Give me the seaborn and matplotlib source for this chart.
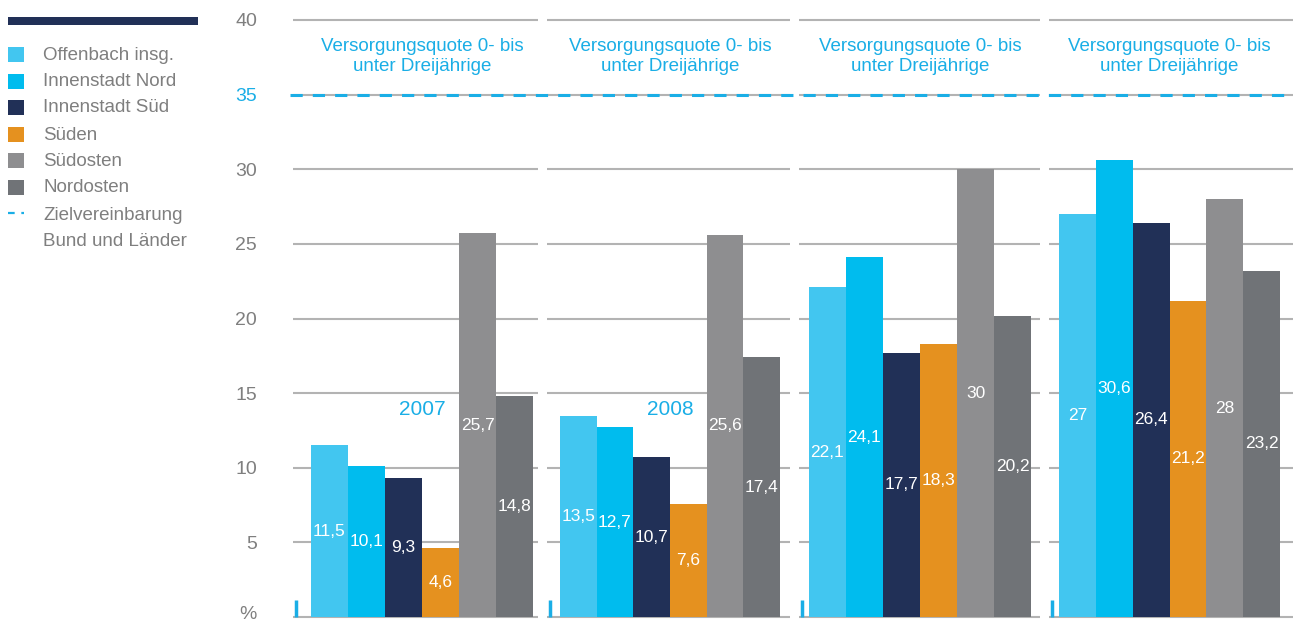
import pandas as pd
import seaborn as sns
import matplotlib.pyplot as plt
from matplotlib.patches import Rectangle
from matplotlib.lines import Line2D
from matplotlib import transforms

# Data
years = ['2007', '2008', '2009', '2010']
shown_years = ['2007', '2008']   # later year labels are hidden behind the bars
regions = ['Offenbach insg.', 'Innenstadt Nord', 'Innenstadt Süd', 'Süden', 'Südosten', 'Nordosten']
offenbach = [11.5, 13.5, 22.1, 27]
innenstadt_nord = [10.1, 12.7, 24.1, 30.6]
innenstadt_sued = [9.3, 10.7, 17.7, 26.4]
sueden = [4.6, 7.6, 18.3, 21.2]
suedosten = [25.7, 25.6, 30, 28]
nordosten = [14.8, 17.4, 20.2, 23.2]
target = 35
target_label = ['Zielvereinbarung', 'Bund und Länder']
panel_title = 'Versorgungsquote 0- bis\nunter Dreijährige'
yticks = [0, 5, 10, 15, 20, 25, 30, 35, 40]
ytick_labels = ['%', '5', '10', '15', '20', '25', '30', '35', '40']

colors = ['#42c6f0', '#00bcee', '#213057', '#e5911f', '#8e8e90', '#707377']
blue = '#1aaee6'
grey_txt = '#7f7f7f'
grid_col = '#b3b3b3'

series = [offenbach, innenstadt_nord, innenstadt_sued, sueden, suedosten, nordosten]
rows = []
for reg, vals in zip(regions, series):
    for yr, v in zip(years, vals):
        rows.append({'year': yr, 'region': reg, 'value': v})
df = pd.DataFrame(rows)

sns.set_style('white')
plt.rcParams['font.family'] = ['Liberation Sans', 'DejaVu Sans']

W, H = 1293, 624
fig = plt.figure(figsize=(W / 100, H / 100), dpi=100)

# panel extents in pixels and padding around the bar group
panels = [(293, 538), (547, 790), (799, 1040), (1049, 1293)]
pads = [(18, 5), (13, 10), (10, 9), (10, 13)]
px_per_unit = 222 / 0.8
y_lo, y_hi = -0.2, 40.3
px_per_val = (617 - 20) / 40
bot_px = 617 + 0.2 * px_per_val
top_px = 617 - 40.3 * px_per_val

axes = []
for i, (yr, (x0, x1), (pl, pr)) in enumerate(zip(years, panels, pads)):
    ax = fig.add_axes([x0 / W, (H - bot_px) / H, (x1 - x0) / W, (bot_px - top_px) / H])
    sub = df[df['year'] == yr]
    sns.barplot(data=sub, x='year', y='value', hue='region', hue_order=regions,
                palette=colors, saturation=1, width=0.8, ax=ax, legend=False,
                linewidth=0, edgecolor='none', zorder=2)
    for cont, reg in zip(ax.containers, regions):
        v = sub.loc[sub['region'] == reg, 'value'].iloc[0]
        ax.bar_label(cont, labels=[f'{v:g}'.replace('.', ',')], label_type='center',
                     color='white', fontsize=12.5)
    xl = -0.4 - pl / px_per_unit
    xr = 0.4 + pr / px_per_unit
    ax.set_xlim(xl, xr)
    ax.set_ylim(y_lo, y_hi)
    ax.set_yticks(yticks)
    ax.yaxis.grid(True, color=grid_col, lw=1.5)
    ax.set_axisbelow(True)
    for s in ax.spines.values():
        s.set_visible(False)
    ax.set_xticks([])
    ax.set_xlabel('')
    ax.set_ylabel('')
    ax.tick_params(axis='y', length=0, pad=26, labelsize=14, labelcolor=grey_txt)
    if i == 0:
        ax.set_yticklabels(ytick_labels)
        for lab in ax.get_yticklabels():
            if lab.get_text() == str(target):
                lab.set_color(blue)
            if lab.get_text() == '%':
                lab.set_transform(lab.get_transform() +
                                  transforms.ScaledTranslation(0, 3 / 72, fig.dpi_scale_trans))
    else:
        ax.set_yticklabels([])
    ax.text(0, 37.55, panel_title, ha='center', va='center', color=blue,
            fontsize=13.5, linespacing=1.2)
    if yr in shown_years:
        ax.text(0, 13.9, yr, ha='center', va='center', color=blue, fontsize=15, zorder=1)
    ax.vlines(xl + 3 / px_per_unit, 0, 1.15, color=blue, lw=2.5, zorder=3)
    axes.append(ax)

# target line across all panels
tr = transforms.blended_transform_factory(fig.transFigure, axes[0].transData)
fig.add_artist(Line2D([290 / W, 1.0], [target, target], transform=tr, color=blue,
                      lw=2.2, dashes=(4, 3.3)))

# legend
fig.add_artist(Rectangle((8 / W, (H - 25) / H), 190 / W, 8 / H,
                         transform=fig.transFigure, color='#213057', lw=0))
ys = [55, 82, 108, 135, 161, 188]
for reg, c, y in zip(regions, colors, ys):
    fig.add_artist(Rectangle((8 / W, (H - y - 7) / H), 16 / W, 15 / H,
                             transform=fig.transFigure, color=c, lw=0))
    fig.text(43 / W, (H - y) / H, reg, ha='left', va='center', color=grey_txt, fontsize=13.5)
fig.add_artist(Line2D([8 / W, 24 / W], [(H - 213) / H] * 2, transform=fig.transFigure,
                      color=blue, lw=1.6, dashes=(3, 3)))
for txt, y in zip(target_label, [215, 242]):
    fig.text(43 / W, (H - y) / H, txt, ha='left', va='center', color=grey_txt, fontsize=13.5)

fig.savefig('out.png', dpi=100)
